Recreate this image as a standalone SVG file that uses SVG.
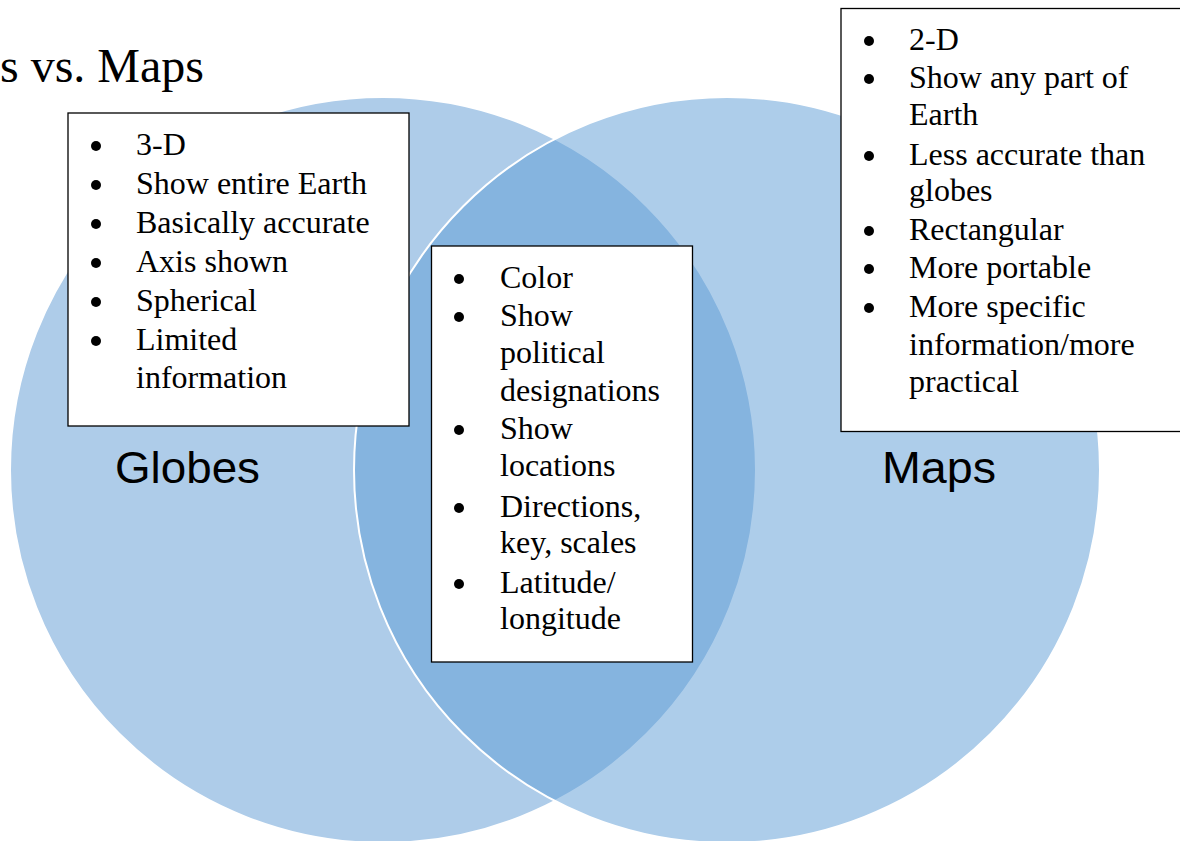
<svg xmlns="http://www.w3.org/2000/svg" width="1180" height="841" viewBox="0 0 1180 841">
<style>
.circ{fill:#5B9BD5;fill-opacity:0.5;stroke:#ffffff;stroke-width:2}
.box{fill:#ffffff;stroke:#000000;stroke-width:1.3}
.t{font-family:"Liberation Serif","Times New Roman",serif;font-size:32px;fill:#000}
.lbl{font-family:"Liberation Sans",Arial,sans-serif;font-size:45px;fill:#000}
.title{font-family:"Liberation Serif","Times New Roman",serif;font-size:48px;fill:#000}
.b{fill:#000}
</style>
<rect width="1180" height="841" fill="#ffffff"/>
<text class="title" x="0" y="82">s vs. Maps</text>
<g id="globes">
<circle class="circ" cx="383" cy="470" r="373" style="fill:#aecce9;fill-opacity:1"/>
<text class="lbl" x="115" y="483" textLength="145" lengthAdjust="spacingAndGlyphs">Globes</text>
</g>
<g id="maps">
<circle class="circ" cx="727" cy="470" r="373"/>
<text class="lbl" x="882" y="483" textLength="114" lengthAdjust="spacingAndGlyphs">Maps</text>
</g>
<g id="globes-box">
<rect class="box" x="68" y="113" width="341" height="313"/>
<circle class="b" cx="96" cy="146" r="5"/><text class="t" x="136" y="155">3-D</text>
<circle class="b" cx="96" cy="185" r="5"/><text class="t" x="136" y="194">Show entire Earth</text>
<circle class="b" cx="96" cy="224" r="5"/><text class="t" x="136" y="233">Basically accurate</text>
<circle class="b" cx="96" cy="263" r="5"/><text class="t" x="136" y="272">Axis shown</text>
<circle class="b" cx="96" cy="302" r="5"/><text class="t" x="136" y="311">Spherical</text>
<circle class="b" cx="96" cy="341" r="5"/><text class="t" x="136" y="350">Limited</text>
<text class="t" x="136" y="388">information</text>
</g>
<g id="both-box">
<rect class="box" x="431.5" y="246" width="261" height="416"/>
<circle class="b" cx="459" cy="279" r="5"/><text class="t" x="500" y="288">Color</text>
<circle class="b" cx="459" cy="317" r="5"/><text class="t" x="500" y="326">Show</text>
<text class="t" x="500" y="363">political</text>
<text class="t" x="500" y="401">designations</text>
<circle class="b" cx="459" cy="430" r="5"/><text class="t" x="500" y="439">Show</text>
<text class="t" x="500" y="476">locations</text>
<circle class="b" cx="459" cy="508" r="5"/><text class="t" x="500" y="517">Directions,</text>
<text class="t" x="500" y="553">key, scales</text>
<circle class="b" cx="459" cy="584" r="5"/><text class="t" x="500" y="593">Latitude/</text>
<text class="t" x="500" y="629">longitude</text>
</g>
<g id="maps-box">
<rect class="box" x="841" y="8.5" width="345" height="423"/>
<circle class="b" cx="869" cy="41" r="5"/><text class="t" x="909" y="50">2-D</text>
<circle class="b" cx="869" cy="79" r="5"/><text class="t" x="909" y="88">Show any part of</text>
<text class="t" x="909" y="125">Earth</text>
<circle class="b" cx="869" cy="156" r="5"/><text class="t" x="909" y="165">Less accurate than</text>
<text class="t" x="909" y="201">globes</text>
<circle class="b" cx="869" cy="231" r="5"/><text class="t" x="909" y="240">Rectangular</text>
<circle class="b" cx="869" cy="269" r="5"/><text class="t" x="909" y="278">More portable</text>
<circle class="b" cx="869" cy="308" r="5"/><text class="t" x="909" y="317">More specific</text>
<text class="t" x="909" y="355">information/more</text>
<text class="t" x="909" y="392">practical</text>
</g>
<g id="connectors"></g>
</svg>
